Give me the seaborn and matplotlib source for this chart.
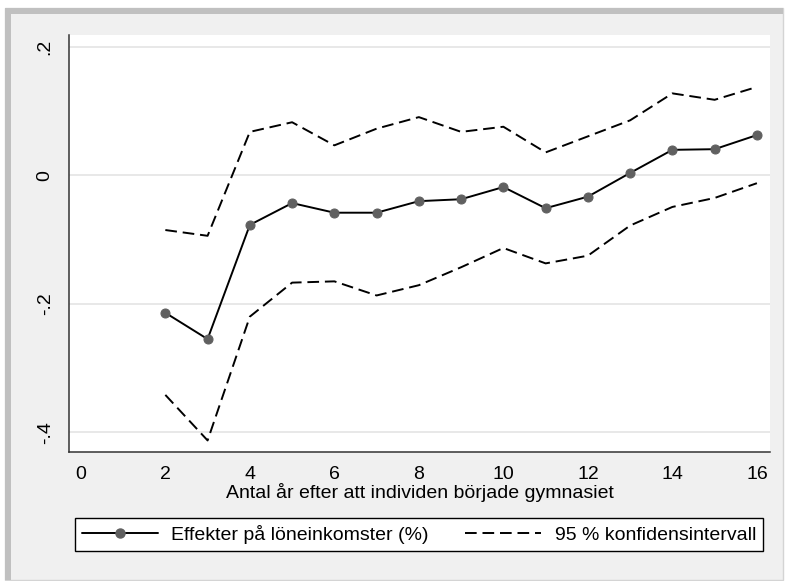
import pandas as pd
import matplotlib.pyplot as plt
import seaborn as sns
from matplotlib.patches import Rectangle
from matplotlib.lines import Line2D

# years after starting upper secondary school
years = [2, 3, 4, 5, 6, 7, 8, 9, 10, 11, 12, 13, 14, 15, 16]
# point estimates
effect = [-0.214, -0.255, -0.077, -0.043, -0.058, -0.058, -0.040, -0.037,
          -0.018, -0.051, -0.033, 0.004, 0.040, 0.041, 0.063]
# 95% CI bounds
ci_upper = [-0.085, -0.094, 0.068, 0.083, 0.047, 0.073, 0.091, 0.068,
            0.076, 0.036, 0.061, 0.086, 0.128, 0.118, 0.138]
ci_lower = [-0.342, -0.413, -0.220, -0.167, -0.165, -0.187, -0.171, -0.143,
            -0.113, -0.137, -0.125, -0.078, -0.049, -0.035, -0.012]

xticks = [0, 2, 4, 6, 8, 10, 12, 14, 16]
yticks = [-0.4, -0.2, 0, 0.2]
ytick_labels = ["-.4", "-.2", "0", ".2"]

df = pd.DataFrame({"year": years, "effect": effect,
                   "upper": ci_upper, "lower": ci_lower})

sns.set_style("white")
plt.rcParams["font.family"] = ["Liberation Sans", "DejaVu Sans"]
plt.rcParams["text.color"] = "black"
fs = 14
lw = 1.4
dash = (0, (6, 3))

fig = plt.figure(figsize=(7.85, 5.81), dpi=100, facecolor="white")
W, H = 785, 581

# outer stata-like panel
fig.patches.append(Rectangle((5 / W, 1 - 580 / H), 778 / W, 572 / H,
                             transform=fig.transFigure, facecolor="#f0f0f0",
                             edgecolor="#d4d4d4", linewidth=1, zorder=-2))
fig.patches.append(Rectangle((5 / W, 1 - 580 / H), 6 / W, 572 / H,
                             transform=fig.transFigure, facecolor="#c0c0c0",
                             edgecolor="none", zorder=-1))
fig.patches.append(Rectangle((5 / W, 1 - 14 / H), 778 / W, 6 / H,
                             transform=fig.transFigure, facecolor="#c0c0c0",
                             edgecolor="none", zorder=-1))

ax = fig.add_axes([69 / W, 1 - 452 / H, 701 / W, 417 / H])
ax.set_zorder(1)
ax.set_facecolor("white")

for y in yticks:
    ax.axhline(y, color="#e6e6e6", linewidth=1.3, zorder=0)

sns.lineplot(data=df, x="year", y="upper", ax=ax, color="black",
             linewidth=lw, linestyle=dash)
sns.lineplot(data=df, x="year", y="lower", ax=ax, color="black",
             linewidth=lw, linestyle=dash)
sns.lineplot(data=df, x="year", y="effect", ax=ax, color="black",
             linewidth=lw, marker="o", markersize=6.5,
             markerfacecolor="#606060", markeredgecolor="#606060")

ax.set_xlim(-0.28, 16.31)
ax.set_ylim(-0.431, 0.219)
ax.set_xticks(xticks)
ax.set_xticklabels([str(t) for t in xticks], fontsize=fs)
ax.set_yticks(yticks)
ax.set_yticklabels(ytick_labels, fontsize=fs, rotation=90, va="center")
ax.tick_params(axis="both", direction="out", length=7, width=1,
               color="#333333", labelcolor="black")
ax.tick_params(axis="x", pad=3)
ax.tick_params(axis="y", pad=4)
ax.set_xlabel("Antal år efter att individen började gymnasiet",
              fontsize=fs, labelpad=0, color="black")
ax.set_ylabel("")

sns.despine(ax=ax)
for side in ["left", "bottom"]:
    ax.spines[side].set_color("#333333")
    ax.spines[side].set_linewidth(1.1)

handles = [
    Line2D([], [], color="black", linewidth=lw, marker="o", markersize=6.5,
           markerfacecolor="#606060", markeredgecolor="#606060"),
    Line2D([], [], color="black", linewidth=lw, linestyle=dash),
]
labels = ["Effekter på löneinkomster (%)", "95 % konfidensintervall"]
leg = fig.legend(handles, labels, ncol=2, fontsize=fs,
                 bbox_to_anchor=(75 / W, 1 - 553 / H, 688 / W, 37 / H),
                 loc="center", mode="expand", fancybox=False,
                 frameon=True, handlelength=3.9, handletextpad=0.7,
                 borderpad=0.35, columnspacing=1.0, borderaxespad=0)
leg.get_frame().set_edgecolor("black")
leg.get_frame().set_linewidth(1)
leg.get_frame().set_facecolor("white")
leg.get_frame().set_alpha(1)

fig.savefig("out.png", dpi=100, facecolor=fig.get_facecolor())
